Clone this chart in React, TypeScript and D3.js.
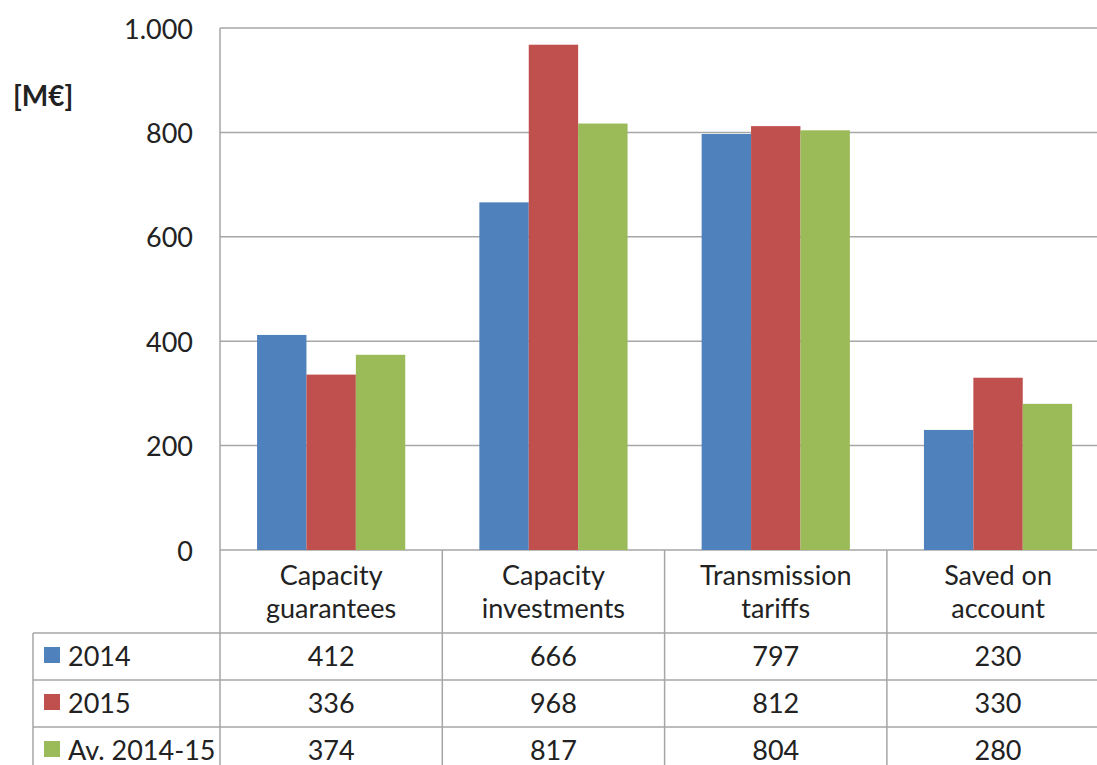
import React from "react";
import * as d3 from "d3";

const categories: string[][] = [
  ["Capacity", "guarantees"],
  ["Capacity", "investments"],
  ["Transmission", "tariffs"],
  ["Saved on", "account"],
];
const seriesNames = ["2014", "2015", "Av. 2014-15"];
const values2014 = [412, 666, 797, 230];
const values2015 = [336, 968, 812, 330];
const valuesAvg = [374, 817, 804, 280];
const seriesValues = [values2014, values2015, valuesAvg];
const seriesColors = ["#4F81BD", "#C0504D", "#9BBB59"];
const yTicks = [0, 200, 400, 600, 800, 1000];

const W = 1097;
const H = 765;
const FONT = "Lato, 'Liberation Sans', sans-serif";
const FS = 27;

export default function App() {
  const plotLeft = 220;
  const catW = 222.3;
  const plotTop = 28;
  const plotBottom = 550;
  const tableTop = 633;
  const rowH = 47;
  const tableLeft = 33;

  const x0 = d3
    .scaleBand<number>()
    .domain(categories.map((_, i) => i))
    .range([plotLeft, plotLeft + catW * categories.length])
    .padding(0);
  const x1 = d3
    .scaleBand<number>()
    .domain(seriesNames.map((_, i) => i))
    .range([0, x0.bandwidth()])
    .paddingInner(0)
    .paddingOuter(0.75);
  const y = d3.scaleLinear().domain([0, 1000]).range([plotBottom, plotTop]);
  const locale = d3.formatLocale({
    decimal: ",",
    thousands: ".",
    grouping: [3],
    currency: ["", "€"],
  });
  const fmt = locale.format(",.0f");

  const gridColor = "#a6a6a6";
  const rightEdge = plotLeft + catW * categories.length;

  return (
    <svg
      width={W}
      height={H}
      style={{ position: "absolute", left: 0, top: 0, background: "#fff" }}
      fontFamily={FONT}
    >
      {yTicks.map((t) => (
        <line
          key={"g" + t}
          x1={plotLeft}
          x2={rightEdge}
          y1={y(t)}
          y2={y(t)}
          stroke={gridColor}
          strokeWidth={1.5}
        />
      ))}
      {yTicks.map((t) => (
        <text
          key={"t" + t}
          x={193}
          y={y(t)}
          textAnchor="end"
          dominantBaseline="central"
          fontSize={FS}
          fill="#222"
        >
          {fmt(t)}
        </text>
      ))}
      <text x={13} y={95} dominantBaseline="central" fontSize={28} fontWeight="bold" fill="#222">
        [M€]
      </text>
      {categories.map((_, ci) =>
        seriesValues.map((vals, si) => (
          <rect
            key={`b${ci}-${si}`}
            x={(x0(ci) as number) + (x1(si) as number)}
            y={y(vals[ci])}
            width={x1.bandwidth()}
            height={y(0) - y(vals[ci])}
            fill={seriesColors[si]}
          />
        ))
      )}
      <line x1={plotLeft} x2={plotLeft} y1={plotTop} y2={H} stroke={gridColor} strokeWidth={1.5} />
      {categories.map((_, ci) =>
        ci === 0 ? null : (
          <line
            key={"v" + ci}
            x1={x0(ci) as number}
            x2={x0(ci) as number}
            y1={plotBottom}
            y2={H}
            stroke={gridColor}
            strokeWidth={1.5}
          />
        )
      )}
      <line x1={tableLeft} x2={tableLeft} y1={tableTop} y2={H} stroke={gridColor} strokeWidth={1.5} />
      {[0, 1, 2, 3].map((r) => (
        <line
          key={"h" + r}
          x1={tableLeft}
          x2={rightEdge}
          y1={tableTop + r * rowH}
          y2={tableTop + r * rowH}
          stroke={gridColor}
          strokeWidth={1.5}
        />
      ))}
      {categories.map((lines, ci) =>
        lines.map((ln, li) => (
          <text
            key={`c${ci}-${li}`}
            x={(x0(ci) as number) + x0.bandwidth() / 2}
            y={574 + li * 33}
            textAnchor="middle"
            dominantBaseline="central"
            fontSize={FS}
            fill="#222"
          >
            {ln}
          </text>
        ))
      )}
      {seriesNames.map((name, si) => {
        const cy = tableTop + si * rowH + rowH / 2 - 1.5;
        return (
          <g key={"r" + si}>
            <rect x={44} y={cy - 8} width={16} height={16} fill={seriesColors[si]} />
            <text x={68} y={cy} dominantBaseline="central" fontSize={FS} fill="#222">
              {name}
            </text>
            {seriesValues[si].map((v, ci) => (
              <text
                key={`v${si}-${ci}`}
                x={(x0(ci) as number) + x0.bandwidth() / 2}
                y={cy}
                textAnchor="middle"
                dominantBaseline="central"
                fontSize={FS}
                fill="#222"
              >
                {v}
              </text>
            ))}
          </g>
        );
      })}
    </svg>
  );
}
